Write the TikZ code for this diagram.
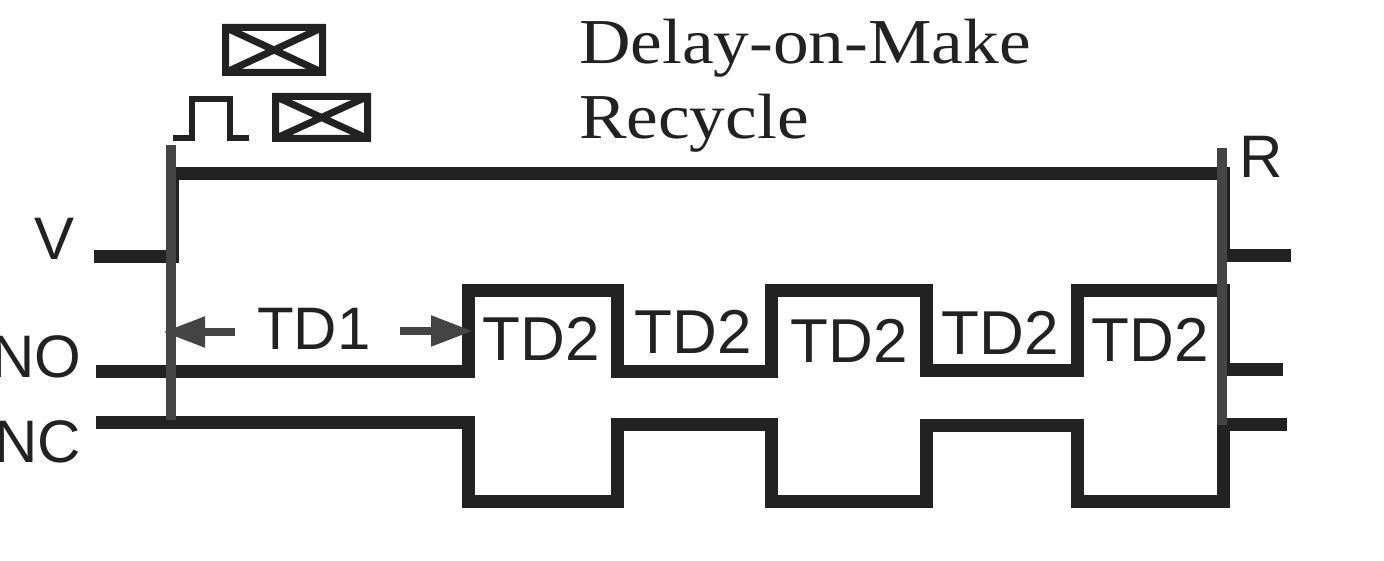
\documentclass[tikz,border=0pt]{standalone}
\usepackage{fontspec}
\setmainfont{Liberation Sans}
\newfontfamily\serifhead[FakeStretch=1.115]{Liberation Serif}
\usetikzlibrary{arrows.meta}
\definecolor{trace}{HTML}{222222}
\definecolor{marker}{HTML}{444444}
\tikzset{
  tracewire/.style={draw=trace,line width=13pt,line join=miter,line cap=butt},
  markerline/.style={draw=marker,line width=10pt},
  delayarrow/.style={draw=marker,line width=8pt,-{Triangle[length=42pt,width=29pt]}},
  lbl/.style={anchor=base,inner sep=0pt,outer sep=0pt,text=trace,font=\fontsize{60}{60}\selectfont},
  tdtwo/.style={lbl,font=\fontsize{62}{62}\selectfont},
  title/.style={anchor=base west,inner sep=0pt,outer sep=0pt,text=trace,font=\serifhead\fontsize{64}{64}\selectfont},
  relaybox/.style={draw=trace,line width=7pt},
  pulse/.style={draw=trace,line width=6pt}
}
\begin{document}
\begin{tikzpicture}[x=1pt,y=-1pt]
\useasboundingbox (0,0) rectangle (1384,561);
% relay symbols
\draw[relaybox] (225.5,27.5) rectangle (322.5,72.5) (225.5,27.5) -- (322.5,72.5) (225.5,72.5) -- (322.5,27.5);
\draw[relaybox] (275.5,96.5) rectangle (367.5,138.5) (275.5,96.5) -- (367.5,138.5) (275.5,138.5) -- (367.5,96.5);
\draw[pulse] (173,138.5) -- (192,138.5) -- (192,99) -- (230,99) -- (230,138.5) -- (249,138.5);
% titles
\node[title] (t1) at (579,64) {Delay-on-Make};
\node[title] (t2) at (579,139) {Recycle};
% waveforms
\draw[tracewire] (94,257) -- (172,257) -- (172,174) -- (1223,174) -- (1223,256) -- (1291,256);
\draw[tracewire] (96,371) -- (468,371) -- (468,291) -- (617,291) -- (617,371) -- (771,371) -- (771,291) -- (926,291) -- (926,370) -- (1077,370) -- (1077,291) -- (1223,291) -- (1223,369) -- (1283,369);
\draw[tracewire] (96,422) -- (468,422) -- (468,501) -- (617,501) -- (617,424) -- (771,424) -- (771,501) -- (926,501) -- (926,425) -- (1077,425) -- (1077,501) -- (1223,501) -- (1223,424) -- (1287,424);
% markers
\coordinate (m1a) at (171,145);
\coordinate (m1b) at (171,420);
\coordinate (m2a) at (1222,148);
\coordinate (m2b) at (1222,425);
\draw[markerline] (m1a) -- (m1b);
\draw[markerline] (m2a) -- (m2b);
% labels
\node[lbl] (v) at (55,260) {V};
\node[lbl,anchor=base east] (no) at (81,377) {NO};
\node[lbl,anchor=base east] (nc) at (81,462) {NC};
\node[lbl] (r) at (1261,178) {R};
\node[lbl] (td1) at (314,349) {TD1};
\node[tdtwo] (a) at (541,360) {TD2};
\node[tdtwo] (b) at (693,353) {TD2};
\node[tdtwo] (c) at (849,362) {TD2};
\node[tdtwo] (d) at (1000,354) {TD2};
\node[tdtwo] (e) at (1150,361) {TD2};
% delay arrows
\coordinate (al0) at (235,332);
\coordinate (al1) at (163,332);
\coordinate (ar0) at (400,331);
\coordinate (ar1) at (473,331);
\draw[delayarrow] (al0) -- (al1);
\draw[delayarrow] (ar0) -- (ar1);
\end{tikzpicture}
\end{document}
